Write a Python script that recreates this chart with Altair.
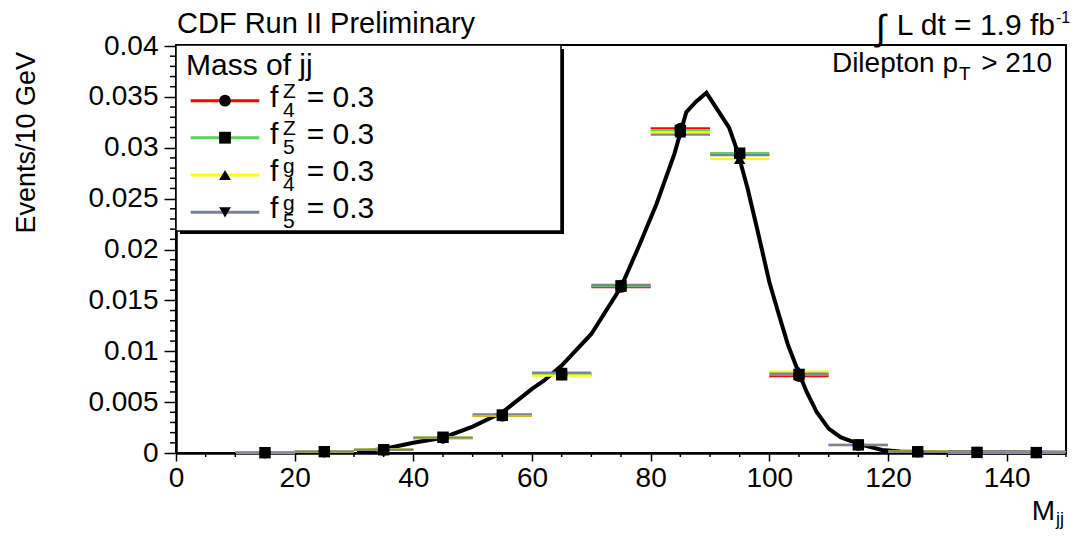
import altair as alt
import pandas as pd

# ---- data ----
bin_lo = [10, 20, 30, 40, 50, 60, 70, 80, 90, 100, 110, 120, 130, 140]
bin_hi = [20, 30, 40, 50, 60, 70, 80, 90, 100, 110, 120, 130, 140, 150]
bin_centers = [15, 25, 35, 45, 55, 65, 75, 85, 95, 105, 115, 125, 135, 145]

f4Z = [0.00003, 0.00012, 0.00030, 0.00147, 0.00365, 0.00770, 0.01630, 0.03190, 0.02930, 0.00755, 0.00079, 0.00012, 0.00006, 0.00004]
f5Z = [0.00003, 0.00013, 0.00032, 0.00155, 0.00370, 0.00775, 0.01640, 0.03170, 0.02947, 0.00770, 0.00080, 0.00012, 0.00006, 0.00004]
f4g = [0.00002, 0.00012, 0.00037, 0.00148, 0.00370, 0.00760, 0.01660, 0.03150, 0.02890, 0.00800, 0.00082, 0.00013, 0.00007, 0.00004]
f5g = [0.00004, 0.00014, 0.00033, 0.00150, 0.00380, 0.00790, 0.01650, 0.03130, 0.02927, 0.00780, 0.00078, 0.00012, 0.00006, 0.00004]

series_keys = ["f4Z", "f5Z", "f4g", "f5g"]
series_colors = ["#ff0000", "#5ad55a", "#ffff00", "#7f7f9a"]
series_shapes = ["circle", "square", "triangle-up", "triangle-down"]
legend_main = ["f", "f", "f", "f"]
legend_sup = ["Z", "Z", "g", "g"]
legend_sub = ["4", "5", "4", "5"]
legend_tail = ["= 0.3", "= 0.3", "= 0.3", "= 0.3"]

curve_x = [30.5, 35, 40, 45, 50, 55, 60, 62, 65, 70, 75, 78, 81, 84, 86, 87.6, 89.4,
           91.3, 93.2, 94.6, 96.3, 98, 100, 101.4, 103.1, 104.8, 106.3, 108, 110, 112,
           115, 119, 122, 125, 130, 140, 150]
curve_y = [0.0001, 0.0004, 0.001, 0.0015, 0.0026, 0.004, 0.0063, 0.0071, 0.0086, 0.0117,
           0.0163, 0.0203, 0.0245, 0.0294, 0.0335, 0.0345, 0.0354,
           0.0337, 0.0320, 0.0297, 0.0261, 0.0219, 0.0168, 0.0140, 0.0107, 0.0081,
           0.0060, 0.0040, 0.0024, 0.00155, 0.0009, 0.0003, 0.00015, 0.0001, 0.00006,
           0.00004, 0.00003]

y_major = [0, 0.005, 0.01, 0.015, 0.02, 0.025, 0.03, 0.035, 0.04]
y_minor = [0.001, 0.002, 0.003, 0.004, 0.006, 0.007, 0.008, 0.009, 0.011, 0.012, 0.013, 0.014,
           0.016, 0.017, 0.018, 0.019, 0.021, 0.022, 0.023, 0.024, 0.026, 0.027, 0.028, 0.029,
           0.031, 0.032, 0.033, 0.034, 0.036, 0.037, 0.038, 0.039]
x_major = [0, 20, 40, 60, 80, 100, 120, 140]
x_minor = [5, 10, 15, 25, 30, 35, 45, 50, 55, 65, 70, 75, 85, 90, 95, 105, 110, 115,
           125, 130, 135, 145, 150]

# ---- tables ----
rows = []
for key, vals in zip(series_keys, [f4Z, f5Z, f4g, f5g]):
    for lo, hi, c, v in zip(bin_lo, bin_hi, bin_centers, vals):
        rows.append({"series": key, "lo": lo, "hi": hi, "m": c, "v": v})
hist = pd.DataFrame(rows)
curve = pd.DataFrame({"m": curve_x, "v": curve_y})

W, H = 890, 408
FONT = "Liberation Sans"
xs = alt.Scale(domain=[0, 150], nice=False, zero=False)
ys = alt.Scale(domain=[0, 0.0401], nice=False, zero=False)
common_axis = dict(title=None, labelFont=FONT, labelFontSize=28, labelColor="black",
                   domainColor="black", domainWidth=2.5, tickColor="black", tickWidth=1.5,
                   grid=False, labelFlush=False, labelOverlap=False)
x_axis = alt.Axis(values=x_major, format="d", tickSize=8, labelPadding=3, **common_axis)
y_axis = alt.Axis(values=y_major, format=".3~f", tickSize=12, labelPadding=6, **common_axis)
X = lambda f: alt.X(f, type="quantitative", scale=xs, axis=x_axis)
Y = lambda f: alt.Y(f, type="quantitative", scale=ys, axis=y_axis)
color_scale = alt.Scale(domain=series_keys, range=series_colors)
shape_scale = alt.Scale(domain=series_keys, range=series_shapes)

one = pd.DataFrame({"d": [0]})

def txt(s, x, y, size=28, align="left", angle=0):
    return alt.Chart(pd.DataFrame({"t": [s]})).mark_text(
        font=FONT, fontSize=size, align=align, baseline="alphabetic", color="black", angle=angle
    ).encode(x=alt.value(x), y=alt.value(y), text="t:N")

layers = []

curve_layer = alt.Chart(curve).mark_line(color="black", strokeWidth=4).encode(
    x=X("m"), y=Y("v"))
layers.append(curve_layer)

bars = alt.Chart(hist).mark_rule(strokeWidth=2.2).encode(
    x=X("lo"), x2="hi", y=Y("v"),
    color=alt.Color("series:N", scale=color_scale, legend=None),
    detail="series:N")
layers.append(bars)

marks = alt.Chart(hist).mark_point(filled=True, color="black", opacity=1, size=130).encode(
    x=X("m"), y=Y("v"),
    shape=alt.Shape("series:N", scale=shape_scale, legend=None))
layers.append(marks)

# minor ticks
layers.append(alt.Chart(pd.DataFrame({"t": y_minor})).mark_rule(color="black", strokeWidth=1.5).encode(
    y=Y("t"), x=alt.value(-6), x2=alt.value(0)))
layers.append(alt.Chart(pd.DataFrame({"t": x_minor})).mark_rule(color="black", strokeWidth=1.5).encode(
    x=X("t"), y=alt.value(H), y2=alt.value(H + 4)))

# legend box with shadow
layers.append(alt.Chart(one).mark_rect(fill="black").encode(
    x=alt.value(4), x2=alt.value(388), y=alt.value(4), y2=alt.value(189)))
layers.append(alt.Chart(one).mark_rect(fill="white", stroke="black", strokeWidth=1.5).encode(
    x=alt.value(0), x2=alt.value(385), y=alt.value(0), y2=alt.value(186)))
layers.append(txt("Mass of jj", 10, 30, size=30))
row_centers = [55.7, 92.7, 130, 167.3]
for i, yc in enumerate(row_centers):
    layers.append(alt.Chart(one).mark_rule(color=series_colors[i], strokeWidth=3).encode(
        x=alt.value(14.7), x2=alt.value(83.3), y=alt.value(yc)))
    layers.append(alt.Chart(one).mark_point(shape=series_shapes[i], filled=True, color="black",
                                            opacity=1, size=140).encode(
        x=alt.value(49), y=alt.value(yc)))
    layers.append(txt(legend_main[i], 94, yc + 6, size=30))
    layers.append(txt(legend_sup[i], 107, yc - 2.5, size=21))
    layers.append(txt(legend_sub[i], 107, yc + 16, size=21))
    layers.append(txt(legend_tail[i], 130.7, yc + 6, size=30))

# annotations
layers.append(txt("CDF Run II Preliminary", 1, -12, size=29))
layers.append(txt("\u222b", 700, -5, size=36))
layers.append(txt("L dt = 1.9 fb", 879, -10, size=30, align="right"))
layers.append(txt("-1", 880, -22, size=16))
layers.append(txt("Dilepton p", 782, 27, size=28, align="right"))
layers.append(txt("T", 783, 35, size=19))
layers.append(txt("> 210", 876, 27, size=28, align="right"))
layers.append(txt("M", 879, 475, size=28, align="right"))
layers.append(txt("jj", 880, 480, size=18))
layers.append(txt("Events/10 GeV", -141, 7, size=27, align="right", angle=270))

chart = alt.layer(*layers).properties(
    width=W, height=H,
    padding={"left": 168, "top": 37, "right": 7, "bottom": 76},
    autosize=alt.AutoSizeParams(type="none"),
).configure_view(stroke="black", strokeWidth=2)

chart.save("out.html", embed_options={"renderer": "svg", "actions": False})
